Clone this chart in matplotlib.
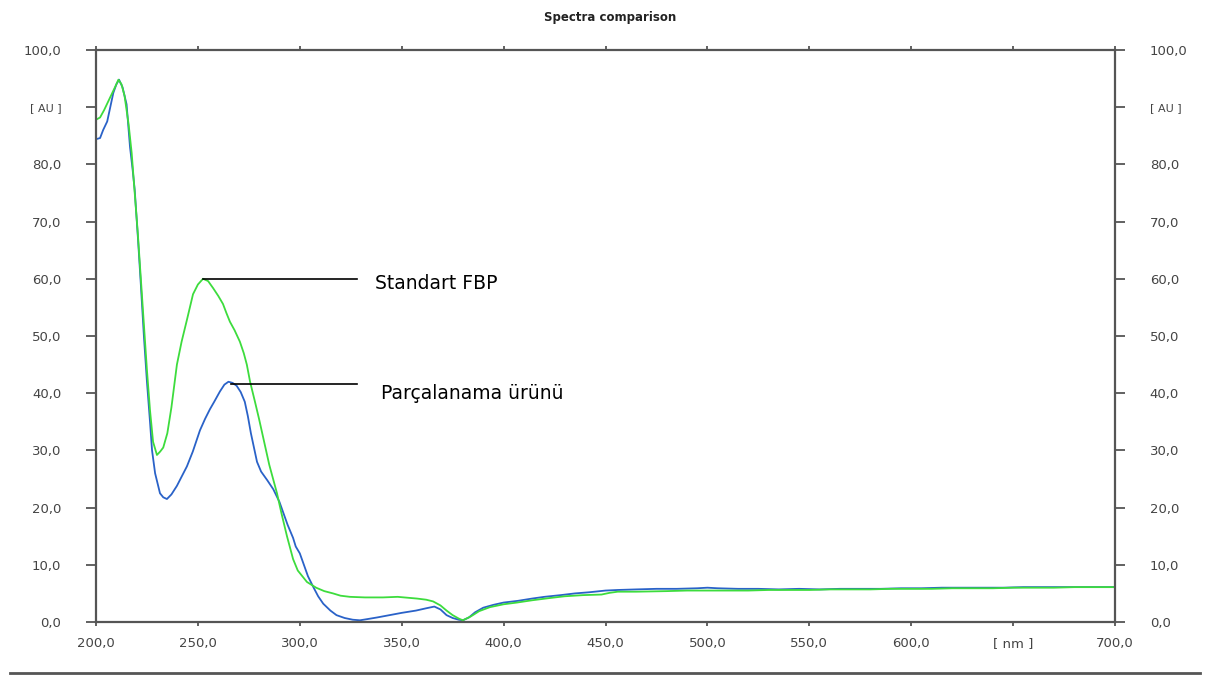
import matplotlib.pyplot as plt
from matplotlib.lines import Line2D

plt.rcParams['font.family'] = ['DejaVu Sans']

# Parçalanama ürünü (blue trace)
wl_product = [200, 202, 203.5, 205.5, 207, 208.5, 210, 211.3, 213, 215, 216.7, 218, 219, 220.6,
              222, 223.5, 225, 226.5, 227.5, 229, 231.4, 233, 234.8, 237, 239.7, 242, 244.6,
              247.5, 251, 253.5, 255.9, 258, 260.8, 263, 265, 267, 269, 271, 273, 274.5, 276,
              277.5, 279, 281, 284, 287, 290, 292, 294, 296.7, 298, 300, 302, 304, 306.5, 309,
              311.5, 315, 318, 322, 326, 329.5, 333, 338, 344, 350, 357, 362, 366, 369, 372,
              375, 378, 380, 383, 386, 390, 395, 400, 407, 414, 420, 428, 435, 442, 450, 456,
              465, 475, 485, 495, 500, 505, 515, 525, 535, 545, 555, 565, 575, 585, 595, 605,
              615, 625, 635, 645, 655, 665, 675, 685, 700]
au_product = [84.4, 84.6, 86, 87.5, 90, 92.5, 94, 94.8, 93.5, 90.5, 83, 79, 75.5, 67,
              59, 50, 42, 35, 30, 26, 22.5, 21.8, 21.5, 22.3, 23.8, 25.4, 27.2,
              29.8, 33.5, 35.5, 37.2, 38.5, 40.3, 41.5, 42, 41.8, 41.3, 40.2, 38.5, 36, 33,
              30.5, 28, 26.3, 24.8, 23.2, 21, 19, 17, 14.7, 13.2, 12, 10, 8, 6.2, 4.5,
              3.2, 2.0, 1.2, 0.7, 0.4, 0.3, 0.5, 0.8, 1.2, 1.6, 2.0, 2.4, 2.7, 2.2, 1.2,
              0.7, 0.4, 0.3, 0.8, 1.7, 2.5, 3.0, 3.4, 3.7, 4.1, 4.4, 4.7, 5.0, 5.2, 5.5, 5.6,
              5.7, 5.8, 5.8, 5.9, 6.0, 5.9, 5.8, 5.8, 5.7, 5.8, 5.7, 5.8, 5.8, 5.8, 5.9, 5.9,
              6.0, 6.0, 6.0, 6.0, 6.1, 6.1, 6.1, 6.1, 6.1]

# Standart FBP (green trace)
wl_standard = [200, 202, 204, 206, 208, 210, 211, 212.5, 214, 216, 217.5, 219, 220.5, 222,
               223.5, 225, 226.5, 228, 229.9, 231.5, 233, 235, 237, 239.7, 242, 244.6, 247.6,
               250, 252.5, 255, 257.4, 260, 262.3, 264, 265.7, 268, 270.6, 272.5, 274, 275.6,
               278, 280, 282, 285, 288.8, 291, 293.7, 296.7, 299, 303.5, 308, 312, 316.3, 320,
               324.6, 332, 340.8, 348, 357.5, 362, 365.4, 369, 372, 375, 378, 380, 384, 388,
               393.3, 400, 406.5, 414, 422.8, 430, 439, 448, 452, 456, 465, 480, 490, 500, 510,
               520, 530, 540, 550, 560, 570, 580, 590, 600, 610, 620, 630, 640, 650, 660, 670,
               680, 690, 700]
au_standard = [87.8, 88.2, 89.5, 91, 92.5, 94, 94.8, 94, 92, 87, 82, 75, 68, 60,
               52, 44, 37, 31.5, 29.2, 29.8, 30.5, 33, 37.5, 45, 49, 52.8, 57.3,
               59, 60, 59.6, 58.4, 57, 55.6, 54, 52.5, 51, 49, 47, 45, 42,
               38.5, 35.5, 32.3, 27.5, 22.5, 19, 15, 11, 9, 7, 6, 5.4, 5.0, 4.6,
               4.4, 4.3, 4.3, 4.4, 4.1, 3.9, 3.6, 2.9, 2.0, 1.2, 0.6, 0.3, 1.0, 1.9,
               2.6, 3.1, 3.4, 3.8, 4.2, 4.5, 4.7, 4.8, 5.1, 5.3, 5.3, 5.4, 5.5, 5.5, 5.5,
               5.5, 5.6, 5.6, 5.6, 5.7, 5.7, 5.7, 5.8, 5.8, 5.8, 5.9, 5.9, 5.9, 6.0, 6.0, 6.0,
               6.1, 6.1, 6.1]

x_ticks = [200, 250, 300, 350, 400, 450, 500, 550, 600, 650, 700]
x_labels = ['200,0', '250,0', '300,0', '350,0', '400,0', '450,0', '500,0', '550,0',
            '600,0', '[ nm ]', '700,0']
y_ticks = [0, 10, 20, 30, 40, 50, 60, 70, 80, 90, 100]
y_labels = ['0,0', '10,0', '20,0', '30,0', '40,0', '50,0', '60,0', '70,0', '80,0',
            '[ AU ]', '100,0']

# labelled peaks: (wavelength, absorbance, label)
peak_standard = (252.5, 60.0, 'Standart FBP')
peak_product = (266.0, 41.6, 'Parçalanama ürünü')
leader_end = 328.0

fig = plt.figure(figsize=(12.06, 6.75), dpi=100)
ax = fig.add_axes([0.0796, 0.0785, 0.845, 0.8475])

ax.plot(wl_product, au_product, color='#2a62c8', lw=1.3)
ax.plot(wl_standard, au_standard, color='#3ddc3d', lw=1.3)

ax.set_xlim(200, 700)
ax.set_ylim(0, 100)
ax.set_xticks(x_ticks)
ax.set_xticklabels(x_labels)
ax.set_yticks(y_ticks)
ax.set_yticklabels(y_labels)

for s in ax.spines.values():
    s.set_color('#555555')
    s.set_linewidth(1.6)

ax.tick_params(axis='x', top=True, bottom=True, direction='out', length=3, width=1.3,
               color='#555555', labelsize=9.5, labelcolor='#444444', pad=8)
ax.tick_params(axis='y', left=True, right=True, labelright=True, direction='out', length=7,
               width=1.3, color='#555555', labelsize=9.5, labelcolor='#444444', pad=18)
ax.tick_params(axis='y', which='major', labelright=True)
for lbl in ax.get_yticklabels() + ax.yaxis.get_ticklabels():
    if lbl.get_text() == '[ AU ]':
        lbl.set_fontsize(8)

for px, py, text in [peak_standard, peak_product]:
    ax.plot([px, leader_end], [py, py], color='black', lw=1.2)
ax.text(337, peak_standard[1] - 0.8, peak_standard[2], fontsize=13.5, va='center', ha='left')
ax.text(340, peak_product[1] - 1.6, peak_product[2], fontsize=13.5, va='center', ha='left')

fig.text(0.506, 0.974, 'Spectra comparison', fontsize=8.5, fontweight='bold',
         ha='center', va='center', color='#222222')

fig.add_artist(Line2D([0.008, 0.995], [0.003, 0.003], transform=fig.transFigure,
                      color='#555555', lw=2))

fig.savefig('out.png', dpi=100)
